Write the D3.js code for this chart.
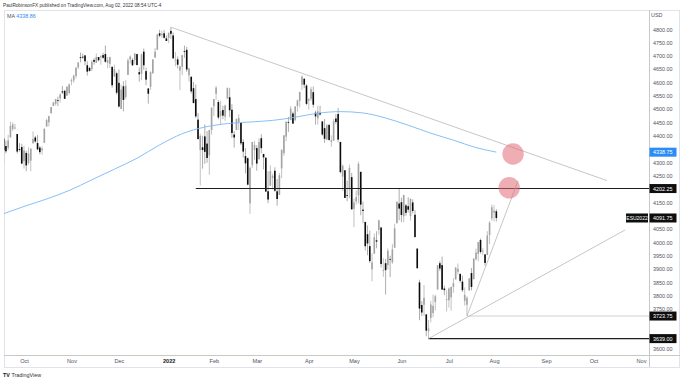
<!DOCTYPE html>
<html><head><meta charset="utf-8">
<script src="https://cdn.jsdelivr.net/npm/d3@7"></script>
<style>body{margin:0;background:#fff}svg{display:block}text{font-family:"Liberation Sans",Arial,sans-serif}</style>
</head><body><svg id="c" width="680" height="380"></svg>
<script>
// ---- data (ESU2022 daily bars, first bar = index -9, Oct 1 2021 = index 0) ----
const firstIndex = -9;
const open = [4390,4362,4355,4394,4426,4430,4407,4350,4358,
4305,4336,4298,4307,4372,4394,4373,4356,4346,4374,4435,4451,4485,4512,4520,4534,4541,4567,4569,4551,4561,
4605,4608,4625,4657,4695,4697,4702,4665,4655,4651,4685,4674,4696,4695,4703,4707,4674,4670,4659,4623,4635,
4599,4501,4586,4546,4629,4687,4685,4684,4707,4639,4633,4716,4643,4578,4584,4635,4694,4723,4785,4779,4785,4766,
4768,4794,4777,4683,4687,4645,4659,4718,4723,4627,4622,4579,4538,4461,4347,4357,4398,4371,4327,4422,
4511,4558,4527,4474,4497,4472,4540,4545,4498,4405,4422,4452,4449,4377,4324,4316,4147,4290,4347,
4354,4312,4391,4332,4318,4192,4213,4242,4269,4192,4178,4278,4335,4397,4452,4459,4484,4460,4512,4531,4592,4614,4589,
4532,4539,4564,4487,4466,4486,4454,4429,4386,4441,4377,4382,4465,4482,4377,4247,4271,4178,4199,4245,
4126,4154,4177,4265,4123,4077,4031,3986,3899,3958,4008,4047,4056,3895,3922,3915,3938,3925,3980,4072,4146,
4151,4098,4139,4136,4099,4150,4104,3977,3850,3765,3766,3730,3667,3717,3735,3776,3823,3922,3915,3827,3787,
3783,3794,3833,3861,3890,3882,3853,3781,3766,3820,3885,3862,3937,3957,4009,3968,3955,3953,4028,4090,
4112,4117];
const high = [4390,4382,4404,4453,4451,4445,4407,4373,4370,
4363,4344,4357,4353,4417,4400,4403,4362,4360,4427,4464,4476,4508,4528,4539,4547,4560,4587,4573,4585,4596,
4616,4630,4659,4678,4713,4709,4703,4680,4659,4684,4692,4709,4696,4703,4712,4739,4696,4697,4660,4667,4641,
4649,4592,4605,4609,4691,4702,4692,4710,4708,4657,4709,4728,4656,4578,4642,4687,4730,4781,4798,4794,4798,4777,
4787,4808,4788,4715,4698,4663,4704,4739,4734,4655,4622,4602,4593,4485,4408,4401,4443,4418,4422,4506,
4538,4587,4535,4532,4513,4517,4582,4580,4519,4418,4464,4481,4449,4387,4354,4319,4286,4377,4381,
4365,4391,4406,4332,4319,4267,4289,4258,4282,4238,4261,4348,4402,4455,4471,4512,4491,4511,4536,4565,4627,4617,4594,
4541,4585,4585,4495,4513,4513,4456,4463,4445,4445,4402,4463,4481,4505,4378,4292,4271,4232,4292,4261,
4164,4195,4303,4265,4153,4077,4064,4044,3959,4034,4042,4085,4057,3941,3938,3977,3950,3994,4070,4153,4202,
4168,4179,4144,4170,4166,4162,4121,3977,3860,3780,3840,3730,3709,3781,3804,3804,3915,3930,3947,3838,3820,
3831,3834,3866,3908,3921,3882,3875,3831,3798,3865,3904,3941,3977,4001,4015,3978,3956,4042,4080,4142,
4140,4125];
const low = [4294,4335,4347,4394,4418,4424,4334,4341,4294,
4277,4267,4292,4267,4372,4374,4348,4331,4329,4374,4435,4435,4484,4512,4514,4512,4525,4557,4539,4550,4555,
4590,4599,4616,4650,4676,4689,4665,4626,4641,4643,4667,4674,4679,4667,4689,4675,4654,4655,4581,4621,4555,
4507,4501,4492,4538,4629,4672,4662,4668,4664,4603,4609,4648,4590,4521,4573,4633,4693,4723,4770,4768,4765,4756,
4748,4764,4689,4661,4653,4572,4628,4693,4640,4604,4559,4523,4467,4386,4213,4277,4295,4299,4254,4405,
4475,4536,4462,4443,4463,4457,4540,4470,4393,4356,4421,4422,4365,4319,4259,4214,4107,4279,4310,
4269,4312,4335,4274,4189,4147,4213,4199,4190,4138,4178,4241,4325,4380,4415,4459,4445,4455,4491,4507,4572,4579,4515,
4499,4531,4506,4442,4442,4476,4400,4374,4384,4384,4359,4382,4444,4376,4259,4193,4167,4155,4166,4124,
4057,4142,4147,4102,4072,3970,3952,3923,3854,3957,3978,4029,3906,3871,3805,3899,3870,3920,3980,4072,4083,
4076,4076,4100,4112,4082,4109,4019,3903,3708,3724,3724,3648,3639,3700,3719,3745,3823,3893,3822,3802,3741,
3755,3744,3811,3861,3880,3849,3814,3763,3723.75,3819,3820,3862,3932,3929,3958,3952,3912,3952,3994,4081,
4079,4079];
const close = [4346,4342,4383,4437,4443,4431,4341,4347,4296,
4345,4289,4334,4352,4388,4379,4349,4339,4352,4427,4459,4474,4508,4525,4538,4533,4555,4563,4539,4585,4593,
4609,4626,4655,4675,4692,4696,4680,4641,4644,4678,4678,4696,4684,4699,4693,4678,4685,4696,4590,4650,4562,
4510,4574,4535,4588,4683,4698,4665,4709,4666,4631,4706,4665,4611,4558,4639,4687,4716,4781,4776,4783,4768,4756,
4787,4783,4691,4686,4667,4660,4703,4716,4649,4653,4567,4523,4473,4388,4400,4347,4340,4317,4422,4506,
4538,4581,4469,4493,4476,4514,4579,4496,4411,4394,4464,4467,4372,4341,4297,4217,4280,4377,4366,
4296,4377,4354,4319,4191,4161,4268,4250,4194,4163,4252,4348,4402,4453,4451,4502,4446,4510,4533,4565,4622,4592,4520,
4538,4575,4517,4473,4492,4480,4405,4389,4439,4384,4383,4455,4452,4386,4264,4288,4167,4175,4280,4124,
4150,4170,4295,4142,4118,3986,3996,3930,3925,4019,4003,4083,3919,3896,3896,3969,3936,3974,4053,4153,4127,
4103,4178,4111,4123,4163,4118,4020,3903,3752,3737,3792,3669,3677,3767,3762,3798,3914,3902,3823,3821,3787,
3827,3833,3847,3905,3901,3856,3821,3803,3792,3865,3833,3939,3962,4001,3964,3969,3923,4026,4074,4132,
4119,4091.75];

// 200-period moving average, sampled at bar indices
const maIndex = [-9,0,10,20,30,40,50,60,70,80,90,100,110,120,130,140,150,160,170,180,190,200,209];
const maValue = [4108,4135,4163,4195,4235,4275,4316,4366,4408,4433,4446,4452,4458,4470,4485,4491,4486,4467,4440,4410,4384,4356,4339];

// time axis: bar index of each month's first session, and its label
const monthStartIndex = [0,21,42,64,84,103,126,146,167,188,208,231,252,273];
const monthLabels = ["Oct","Nov","Dec","2022","Feb","Mar","Apr","May","Jun","Jul","Aug","Sep","Oct","Nov"];

// price axis tick labels
const priceTicks = [4800,4750,4700,4650,4600,4550,4500,4450,4400,4350,4300,4250,4200,4150,4100,4050,4000,3950,3900,3850,3800,3750,3700,3650,3600];

// drawings: trendlines [i1, p1, i2, p2]
const trendlines = [[65,4808,258,4232],[179,3639,266,4047],[196,3723.75,218.6,4231]];
// horizontal levels [startIndex, price, kind]
const levels = [[76,4202.25,"dark"],[179,3639,"dark"],[196,3723.75,"light"]];
// highlight circles [index, price]
const circles = [[216.4,4332],[214.7,4205]];
// axis price boxes
const boxValues = [4338.75,4202.25,4091.75,3723.75,3639.00];
const boxKinds = ["ma","level","last","level","level"];

// ---- drawing ----
const svg = d3.select("#c");
const W = 680, H = 380;
const plotL = 4, plotR = 649, plotT = 10, plotB = 355;
const x = d3.scaleLinear().domain([-8.85, 276.55]).range([plotL, plotR]);
const y = d3.scaleLinear().domain([3577.5, 4872.4]).range([plotB, plotT]);

const bars = open.map((o,k)=>({i:firstIndex+k,o,h:high[k],l:low[k],c:close[k]}));

// frame
svg.append("rect").attr("x",plotL+0.5).attr("y",plotT+0.5).attr("width",W-plotL-1).attr("height",367-plotT)
  .attr("fill","none").attr("stroke","#e0e3eb").attr("stroke-width",1);
svg.append("line").attr("x1",plotR+0.5).attr("x2",plotR+0.5).attr("y1",plotT).attr("y2",367).attr("stroke","#c8c8c8");
svg.append("line").attr("x1",plotL).attr("x2",W).attr("y1",plotB+0.5).attr("y2",plotB+0.5).attr("stroke","#c8c8c8");

const clip = svg.append("clipPath").attr("id","pc").append("rect")
  .attr("x",plotL).attr("y",plotT).attr("width",plotR-plotL).attr("height",plotB-plotT);
const g = svg.append("g").attr("clip-path","url(#pc)");

// candles
const cg = g.append("g");
cg.selectAll("line.w").data(bars).join("line").attr("class","w")
  .attr("x1",d=>x(d.i)).attr("x2",d=>x(d.i)).attr("y1",d=>y(d.h)).attr("y2",d=>y(d.l))
  .attr("stroke",d=>d.c>=d.o?"#a8a8a8":"#8a8a8a").attr("stroke-width",0.7);
cg.selectAll("rect.b").data(bars).join("rect").attr("class","b")
  .attr("x",d=>x(d.i)-0.8).attr("width",1.6)
  .attr("y",d=>y(Math.max(d.o,d.c)))
  .attr("height",d=>Math.max(0.8,y(Math.min(d.o,d.c))-y(Math.max(d.o,d.c))))
  .attr("fill",d=>d.c>=d.o?"#a3a3a3":"#0b0b0b");

// moving average
const maPts = maIndex.map((d,k)=>[d,maValue[k]]);
g.append("path").datum(maPts)
  .attr("d",d3.line().x(d=>x(d[0])).y(d=>y(d[1])).curve(d3.curveMonotoneX))
  .attr("fill","none").attr("stroke","#7ab8f6").attr("stroke-width",0.9);

// levels
levels.forEach(([i0,p,k])=>{
  g.append("line").attr("x1",x(i0)).attr("x2",plotR).attr("y1",y(p)).attr("y2",y(p))
    .attr("stroke",k==="dark"?"#1e1e1e":"#c4c4c4").attr("stroke-width",k==="dark"?1.1:0.8);
});
// trendlines
trendlines.forEach(([i1,p1,i2,p2])=>{
  g.append("line").attr("x1",x(i1)).attr("y1",y(p1)).attr("x2",x(i2)).attr("y2",y(p2))
    .attr("stroke","#b8b8b8").attr("stroke-width",0.8);
});
// circles
circles.forEach(([i,p])=>{
  g.append("circle").attr("cx",x(i)).attr("cy",y(p)).attr("r",10.7)
    .attr("fill","#e06c75").attr("fill-opacity",0.55);
});

// right axis (labels hidden where a price box covers them)
const visibleTicks = priceTicks.filter(t=>boxValues.every(v=>Math.abs(y(t)-y(v))>=6.9));
const ra = svg.append("g").attr("transform",`translate(${plotR+3},0)`)
  .call(d3.axisRight(y).tickValues(visibleTicks).tickFormat(d3.format(".2f")).tickSize(0).tickPadding(1));
ra.select(".domain").remove();
ra.selectAll("text").attr("fill","#50535e").attr("font-size","5.4px");
svg.append("text").attr("x",651).attr("y",17).text("USD").attr("font-size","5.4px").attr("fill","#50535e");

// price boxes
boxValues.forEach((v,k)=>{
  const kind = boxKinds[k];
  const yy = y(v);
  svg.append("rect").attr("x",plotR+0.5).attr("y",yy-4.5).attr("width",27).attr("height",9)
    .attr("fill",kind==="ma"?"#2a8cf4":"#0e0e0e");
  svg.append("text").attr("x",plotR+4).attr("y",yy+2).text(d3.format(".2f")(v))
    .attr("font-size","5.4px").attr("fill","#fff");
});
// symbol tag
{
  const yy = y(boxValues[2]);
  svg.append("rect").attr("x",626).attr("y",yy-4.5).attr("width",22).attr("height",9).attr("fill","#0e0e0e");
  svg.append("text").attr("x",637).attr("y",yy+2).attr("text-anchor","middle").text("ESU2022")
    .attr("font-size","5px").attr("fill","#fff");
}

// bottom axis
const ba = svg.append("g").attr("transform",`translate(0,${plotB})`)
  .call(d3.axisBottom(x).tickValues(monthStartIndex).tickFormat((d,k)=>monthLabels[k]).tickSize(0).tickPadding(4));
ba.select(".domain").remove();
ba.selectAll("text").attr("font-size","5.6px")
  .attr("font-weight",(d,k)=>monthLabels[k]==="2022"?"bold":"normal")
  .attr("fill",(d,k)=>monthLabels[k]==="2022"?"#222":"#50535e");

// header
svg.append("text").attr("x",3).attr("y",7).text("PaulRobinsonFX published on TradingView.com, Aug 02, 2022 08:54 UTC-4")
  .attr("font-size","4.7px").attr("fill","#333");
const ma = svg.append("text").attr("x",7).attr("y",18).attr("font-size","5.4px");
ma.append("tspan").text("MA ").attr("fill","#50535e");
ma.append("tspan").text("4338.86").attr("fill","#2a8cf4");

// logo
const lg = svg.append("text").attr("x",3).attr("y",377).attr("font-size","5.4px");
lg.append("tspan").text("TV ").attr("font-weight","bold").attr("fill","#131722");
lg.append("tspan").text("TradingView").attr("fill","#333");
</script></body></html>
